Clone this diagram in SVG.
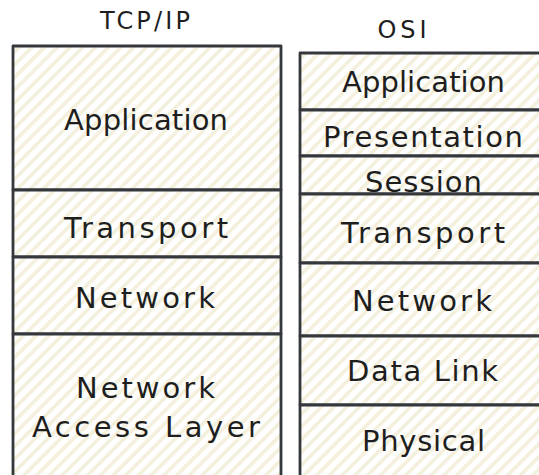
<svg xmlns="http://www.w3.org/2000/svg" width="539" height="475" viewBox="0 0 539 475">
  <defs>
    <!-- diagonal hachure fill for every layer cell -->
    <pattern id="hatch" width="9" height="9" patternUnits="userSpaceOnUse" patternTransform="rotate(45)">
      <rect width="9" height="9" fill="#ffffff"/>
      <line x1="2" y1="0" x2="2" y2="9" stroke="#f3efda" stroke-width="3.4"/>
    </pattern>
    <style>
      .cell { fill: url(#hatch); stroke: #34373c; stroke-width: 2.8; stroke-linejoin: round; }
      .lbl { font-family: "DejaVu Sans", "Liberation Sans", sans-serif; font-size: 29px; fill: #1e1e1e; text-anchor: middle; }
      .title { font-family: "DejaVu Sans", "Liberation Sans", sans-serif; font-size: 24px; fill: #1e1e1e; text-anchor: middle; }
    </style>
  </defs>
  <rect width="539" height="475" fill="#ffffff"/>

  <!-- column headings -->
  <text class="title" x="145" y="29" textLength="90" lengthAdjust="spacing">TCP/IP</text>
  <text class="title" x="402" y="38" textLength="49" lengthAdjust="spacing">OSI</text>

  <!-- TCP/IP stack -->
  <g id="tcp-application">
    <rect class="cell" x="13" y="46" width="268" height="144"/>
    <text class="lbl" x="146" y="130" textLength="164" lengthAdjust="spacing">Application</text>
  </g>
  <g id="tcp-transport">
    <rect class="cell" x="13" y="190" width="268" height="67"/>
    <text class="lbl" x="146" y="238" textLength="164" lengthAdjust="spacing">Transport</text>
  </g>
  <g id="tcp-network">
    <rect class="cell" x="13" y="257" width="268" height="77"/>
    <text class="lbl" x="145" y="308" textLength="140" lengthAdjust="spacing">Network</text>
  </g>
  <g id="tcp-network-access">
    <rect class="cell" x="13" y="334" width="268" height="170"/>
    <text class="lbl" x="145.5" y="398" textLength="139" lengthAdjust="spacing">Network</text>
    <text class="lbl" x="146" y="437" textLength="228" lengthAdjust="spacing">Access Layer</text>
  </g>

  <!-- OSI stack -->
  <g id="osi-application">
    <rect class="cell" x="300" y="53" width="270" height="57"/>
    <text class="lbl" x="423.5" y="92" textLength="163" lengthAdjust="spacing">Application</text>
  </g>
  <g id="osi-presentation">
    <rect class="cell" x="300" y="110" width="270" height="46"/>
    <text class="lbl" x="423" y="147" textLength="200" lengthAdjust="spacing">Presentation</text>
  </g>
  <g id="osi-session">
    <rect class="cell" x="300" y="156" width="270" height="38"/>
    <text class="lbl" x="423.5" y="192" textLength="117" lengthAdjust="spacing">Session</text>
  </g>
  <g id="osi-transport">
    <rect class="cell" x="300" y="194" width="270" height="69"/>
    <text class="lbl" x="423" y="243" textLength="164" lengthAdjust="spacing">Transport</text>
  </g>
  <g id="osi-network">
    <rect class="cell" x="300" y="263" width="270" height="73"/>
    <text class="lbl" x="422" y="311" textLength="140" lengthAdjust="spacing">Network</text>
  </g>
  <g id="osi-data-link">
    <rect class="cell" x="300" y="336" width="270" height="69"/>
    <text class="lbl" x="422.5" y="381" textLength="151" lengthAdjust="spacing">Data Link</text>
  </g>
  <g id="osi-physical">
    <rect class="cell" x="300" y="405" width="270" height="100"/>
    <text class="lbl" x="423.5" y="451" textLength="123" lengthAdjust="spacing">Physical</text>
  </g>
</svg>
